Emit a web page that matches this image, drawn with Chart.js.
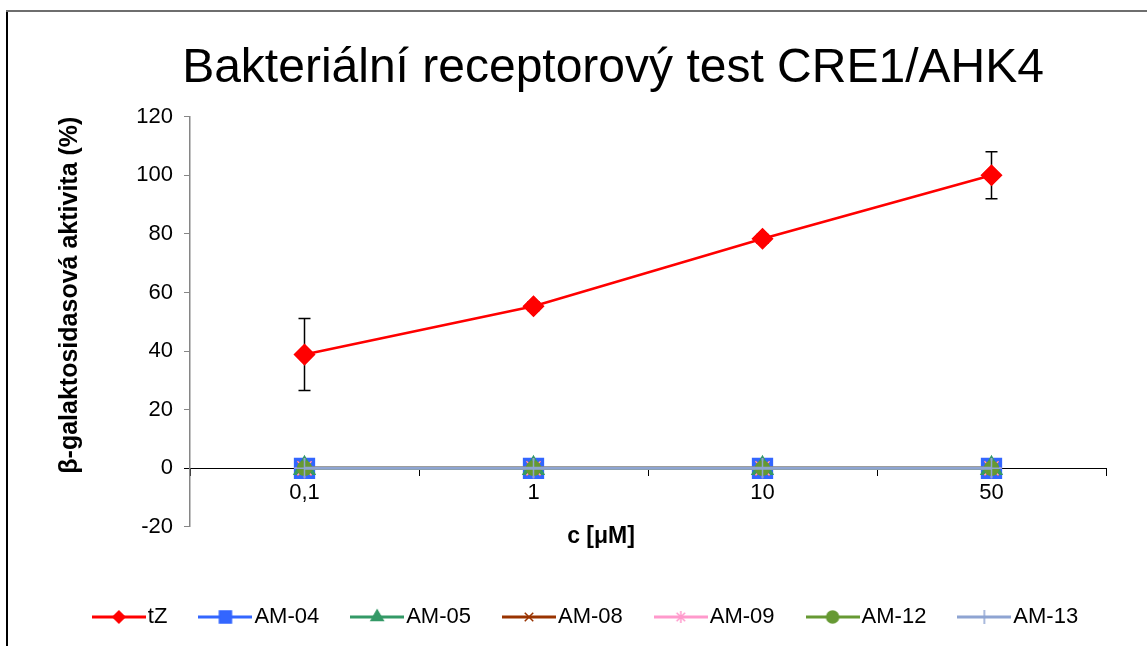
<!DOCTYPE html>
<html>
<head>
<meta charset="utf-8">
<script src="https://cdn.jsdelivr.net/npm/chart.js@4/dist/chart.umd.min.js"></script>
<style>
  html, body { margin: 0; padding: 0; background: #fff; }
  #wrap { position: relative; width: 1147px; height: 646px; }
</style>
</head>
<body>
<div id="wrap"><canvas id="chart"></canvas></div>
<script>
// Chart data.
const categories = ['0,1', '1', '10', '50'];
const tZValues = [38.8, 55.3, 78.3, 100];
const tZErrors = [12.3, 1.5, 1.5, 8];
const am04Values = [0, 0, 0, 0];
const am05Values = [0, 0, 0, 0];
const am08Values = [0, 0, 0, 0];
const am09Values = [0, 0, 0, 0];
const am12Values = [0, 0, 0, 0];
const am13Values = [0, 0, 0, 0];
const yTicks = { min: -20, max: 120, step: 20 };

Chart.defaults.font.family = '"Liberation Sans", Arial, sans-serif';
Chart.defaults.color = '#000';

// Series styles (marker + line), also used to paint the legend icons.
function series(label, data, color, pointStyle, radius, legendRadius, order, lineWidth) {
    return {
        label: label,
        data: data,
        xAxisID: 'x',
        yAxisID: 'y',
        borderColor: color,
        backgroundColor: color,
        borderWidth: lineWidth,
        tension: 0,
        pointStyle: pointStyle,
        pointRadius: radius,
        pointHoverRadius: radius,
        pointBorderWidth: 1.5,
        pointBackgroundColor: color,
        pointBorderColor: color,
        legendRadius: legendRadius,
        order: order
    };
}

const datasets = [
    series('tZ', tZValues, '#FF0000', 'rectRot', 10, 6, 0, 2.5),
    series('AM-04', am04Values, '#3366FF', 'rect', 14, 8.5, 6, 3),
    series('AM-05', am05Values, '#339966', 'triangle', 12, 7, 5, 3),
    series('AM-08', am08Values, '#993300', 'crossRot', 10, 6, 4, 3),
    series('AM-09', am09Values, '#FF99CC', 'star', 10, 6, 3, 3),
    series('AM-12', am12Values, '#669933', 'circle', 7, 6, 2, 3),
    series('AM-13', am13Values, '#8EA4D2', 'cross', 10, 7, 1, 3)
];

// Legend icon: a short line with the series marker on it.
function legendIcon(ds) {
    const c = document.createElement('canvas');
    c.width = 54;
    c.height = 20;
    const ctx = c.getContext('2d');
    ctx.strokeStyle = ds.borderColor;
    ctx.fillStyle = ds.backgroundColor;
    ctx.lineWidth = 3;
    ctx.beginPath();
    ctx.moveTo(0, 10);
    ctx.lineTo(54, 10);
    ctx.stroke();
    ctx.lineWidth = 1.5;
    Chart.helpers.drawPoint(ctx, { pointStyle: ds.pointStyle, radius: ds.legendRadius, borderWidth: 1.5, rotation: 0 }, 27, 10);
    return c;
}

// Error bars for tZ, drawn under the markers.
const errorBars = {
    id: 'errorBars',
    beforeDatasetsDraw(chart) {
        const ctx = chart.ctx;
        const x = chart.scales.x;
        const y = chart.scales.y;
        ctx.save();
        ctx.strokeStyle = '#000';
        ctx.lineWidth = 1.5;
        tZValues.forEach((v, i) => {
            const px = x.getPixelForValue(i);
            const top = y.getPixelForValue(v + tZErrors[i]);
            const bottom = y.getPixelForValue(v - tZErrors[i]);
            ctx.beginPath();
            ctx.moveTo(px, top);
            ctx.lineTo(px, bottom);
            ctx.moveTo(px - 6, top);
            ctx.lineTo(px + 6, top);
            ctx.moveTo(px - 6, bottom);
            ctx.lineTo(px + 6, bottom);
            ctx.stroke();
        });
        ctx.restore();
    }
};

// Outer frame (left and top edges only are visible in the picture).
const frame = {
    id: 'frame',
    beforeDraw(chart) {
        const ctx = chart.ctx;
        ctx.save();
        ctx.lineWidth = 2;
        ctx.strokeStyle = '#000';
        ctx.beginPath();
        ctx.moveTo(7, 11);
        ctx.lineTo(7, 646);
        ctx.stroke();
        ctx.strokeStyle = '#6e6e6e';
        ctx.beginPath();
        ctx.moveTo(6, 11);
        ctx.lineTo(1147, 11);
        ctx.stroke();
        ctx.restore();
    }
};

// Titles are not centred on the canvas / plot in the picture, move them over.
const shiftTitles = {
    id: 'shiftTitles',
    afterLayout(chart) {
        chart.scales.x2.right = 1012;
        if (chart.titleBlock) {
            chart.titleBlock.left = 79;
            chart.titleBlock.right = 1147;
        }
    }
};

new Chart(document.getElementById('chart'), {
    type: 'line',
    data: {
        labels: categories,
        datasets: datasets
    },
    plugins: [frame, errorBars, shiftTitles],
    options: {
        responsive: true,
        maintainAspectRatio: false,
        animation: false,
        events: [],
        layout: {
            padding: { left: 32, right: 0, top: 0, bottom: 8 }
        },
        plugins: {
            title: {
                display: true,
                text: 'Bakteriální receptorový test CRE1/AHK4',
                color: '#000',
                font: { size: 48, weight: 'normal' },
                padding: { top: 40, bottom: 19 }
            },
            legend: {
                position: 'bottom',
                labels: {
                    usePointStyle: true,
                    pointStyleWidth: 36,
                    padding: 40,
                    color: '#000',
                    font: { size: 22 },
                    generateLabels: chart => chart.data.datasets.map((ds, i) => ({
                        text: ds.label,
                        pointStyle: legendIcon(ds),
                        datasetIndex: i,
                        hidden: false,
                        lineWidth: 0,
                        fillStyle: 'transparent',
                        strokeStyle: 'transparent',
                        fontColor: '#000'
                    }))
                }
            },
            tooltip: { enabled: false }
        },
        scales: {
            x: {
                type: 'category',
                position: { y: 0 },
                offset: true,
                grid: {
                    offset: true,
                    drawOnChartArea: false,
                    drawTicks: true,
                    tickLength: 7,
                    color: '#000'
                },
                border: { display: true, color: '#000', width: 1 },
                ticks: { font: { size: 22 }, color: '#000', padding: 4 }
            },
            x2: {
                type: 'category',
                position: 'bottom',
                grid: { display: false, drawTicks: false },
                border: { display: false },
                ticks: { display: false },
                title: {
                    display: true,
                    text: 'c [μM]',
                    color: '#000',
                    font: { size: 23, weight: 'bold', lineHeight: 0.7 },
                    padding: { top: 2, bottom: 21 }
                }
            },
            y: {
                type: 'linear',
                position: 'left',
                min: yTicks.min,
                max: yTicks.max,
                grid: {
                    drawOnChartArea: false,
                    drawTicks: true,
                    tickLength: 6,
                    color: c => (c.tick && c.tick.value === 0 ? '#000' : '#868686')
                },
                border: { display: true, color: '#868686', width: 1.5 },
                ticks: { stepSize: yTicks.step, font: { size: 22 }, color: '#000', padding: 11 },
                title: {
                    display: true,
                    align: 'end',
                    text: 'β-galaktosidasová aktivita (%)',
                    color: '#000',
                    font: { size: 25, weight: 'bold', lineHeight: 1 },
                    padding: { top: 26, bottom: 0 }
                },
                afterFit(scale) {
                    scale.width = 158;
                }
            },
            // empty right-hand axis that only reserves the margin right of the plot
            y2: {
                type: 'linear',
                position: 'right',
                grid: { display: false, drawTicks: false },
                border: { display: false },
                ticks: { display: false },
                afterFit(scale) {
                    scale.width = 41;
                }
            }
        }
    }
});
</script>
</body>
</html>
